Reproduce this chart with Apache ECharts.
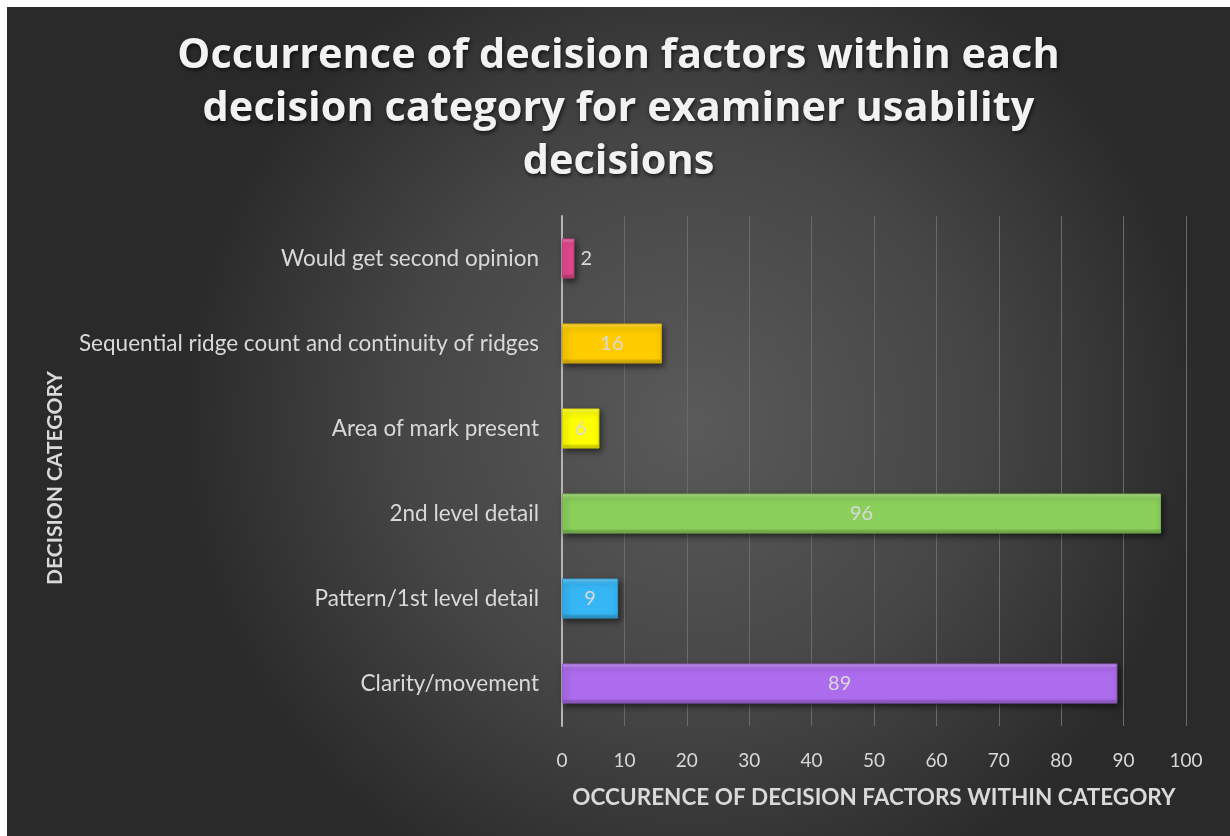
<!DOCTYPE html>
<html>
<head>
<meta charset="utf-8">
<script src="https://cdn.jsdelivr.net/npm/echarts@6/dist/echarts.min.js"></script>
<style>
  html, body { margin: 0; padding: 0; background: #ffffff; }
  #chart { position: absolute; left: 7px; top: 7px; width: 1223px; height: 829px; }
</style>
</head>
<body>
<div id="chart"></div>
<script>
// Decision categories, listed bottom to top as drawn on the category axis
const categories = [
  'Clarity/movement',
  'Pattern/1st level detail',
  '2nd level detail',
  'Area of mark present',
  'Sequential ridge count and continuity of ridges',
  'Would get second opinion'
];
const occurrences = [89, 9, 96, 6, 16, 2];
const barColors = ['#ad6ced', '#36b6f5', '#8bd05b', '#ffff00', '#ffcc00', '#e5488f'];
const xTicks = [0, 10, 20, 30, 40, 50, 60, 70, 80, 90, 100];

const titleText = 'Occurrence of decision factors within each\ndecision category for examiner usability\ndecisions';
const xAxisTitle = 'OCCURENCE OF DECISION FACTORS WITHIN CATEGORY';
const yAxisTitle = 'DECISION CATEGORY';

const FONT = 'Lato, "Open Sans", sans-serif';
const TITLE_FONT = '"Open Sans", Lato, sans-serif';
const TEXT = '#d9d9d9';

// Lighten / darken a hex colour for the bevelled bar faces
function shade(hex, amt) {
  const n = parseInt(hex.slice(1), 16);
  let r = (n >> 16) & 255, g = (n >> 8) & 255, b = n & 255;
  const f = c => Math.max(0, Math.min(255, Math.round(amt >= 0 ? c + (255 - c) * amt : c * (1 + amt))));
  return 'rgb(' + f(r) + ',' + f(g) + ',' + f(b) + ')';
}

const barData = occurrences.map((v, i) => {
  const c = barColors[i];
  const item = {
    value: v,
    itemStyle: {
      color: {
        type: 'linear', x: 0, y: 0, x2: 0, y2: 1,
        colorStops: [
          { offset: 0, color: shade(c, 0.35) },
          { offset: 0.1, color: shade(c, 0.05) },
          { offset: 0.15, color: c },
          { offset: 0.88, color: c },
          { offset: 0.92, color: shade(c, -0.12) },
          { offset: 1, color: shade(c, -0.25) }
        ]
      },
      borderColor: shade(c, -0.15),
      borderWidth: 1,
      shadowColor: 'rgba(0,0,0,0.55)',
      shadowBlur: 6,
      shadowOffsetX: 2,
      shadowOffsetY: 3
    }
  };
  if (v < 4) {
    item.label = { position: 'right', distance: 6 };
  }
  return item;
});

const chart = echarts.init(document.getElementById('chart'));
chart.setOption({
  backgroundColor: {
    type: 'radial', x: 0.56, y: 0.5, r: 0.62,
    colorStops: [
      { offset: 0, color: '#5a5a5a' },
      { offset: 0.55, color: '#464646' },
      { offset: 1, color: '#2a2a2a' }
    ]
  },
  title: {
    text: titleText,
    left: 'center',
    top: 18,
    textStyle: {
      fontFamily: TITLE_FONT,
      fontWeight: 'bold',
      fontSize: 41.5,
      lineHeight: 53,
      color: '#f2f2f2',
      textShadowColor: 'rgba(0,0,0,0.7)',
      textShadowBlur: 4,
      textShadowOffsetX: 1,
      textShadowOffsetY: 2
    }
  },
  grid: { left: 555, right: 44, top: 209, bottom: 110 },
  xAxis: {
    type: 'value',
    min: 0,
    max: 100,
    interval: 10,
    name: xAxisTitle,
    nameLocation: 'middle',
    nameGap: 60,
    nameTextStyle: { fontFamily: FONT, fontWeight: 'bold', fontSize: 22.5, color: TEXT },
    axisLine: { show: false },
    axisTick: { show: false },
    axisLabel: {
      fontFamily: FONT, fontSize: 19, color: TEXT, margin: 25,
      formatter: v => (xTicks.indexOf(v) >= 0 ? String(v) : '')
    },
    splitLine: { show: true, lineStyle: { color: '#6b6b6b', width: 1 } }
  },
  yAxis: {
    type: 'category',
    data: categories,
    name: yAxisTitle,
    nameLocation: 'middle',
    nameRotate: 90,
    nameGap: 496,
    nameTextStyle: { fontFamily: FONT, fontWeight: 'bold', fontSize: 21, color: TEXT, padding: [0, 14, 0, 0] },
    axisLine: { show: true, lineStyle: { color: '#b4b4b4', width: 2 } },
    axisTick: { show: false },
    axisLabel: { fontFamily: FONT, fontSize: 22.5, color: TEXT, margin: 23 }
  },
  series: [{
    type: 'bar',
    data: barData,
    barWidth: 40,
    label: {
      show: true,
      position: 'inside',
      fontFamily: FONT,
      fontSize: 20,
      color: TEXT
    }
  }]
});
</script>
</body>
</html>
